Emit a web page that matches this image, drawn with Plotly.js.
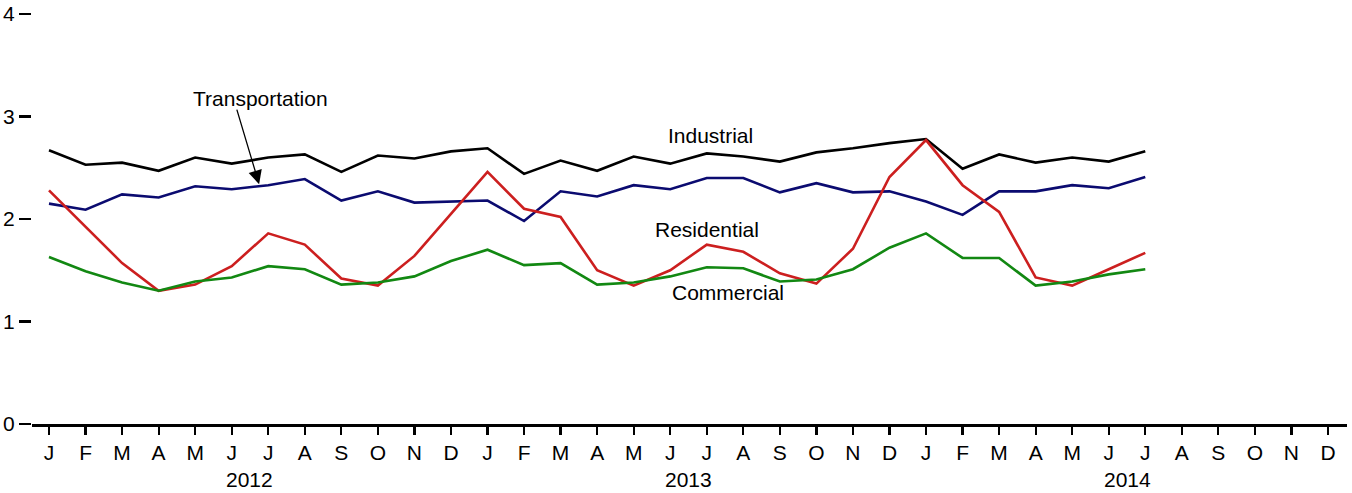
<!DOCTYPE html>
<html>
<head>
<meta charset="utf-8">
<script src="https://cdn.plot.ly/plotly-3.0.1.min.js"></script>
<style>html,body{margin:0;padding:0;background:#fff;}#chart{width:1352px;height:493px;}</style>
</head>
<body>
<div id="chart"></div>
<script>
// Month index 0 = Jan 2012
const monthIndex = [0,1,2,3,4,5,6,7,8,9,10,11,12,13,14,15,16,17,18,19,20,21,22,23,24,25,26,27,28,29,30];
const tickLabels = ["J","F","M","A","M","J","J","A","S","O","N","D","J","F","M","A","M","J","J","A","S","O","N","D","J","F","M","A","M","J","J","A","S","O","N","D"];
const years = ["2012","2013","2014"];

const industrial = [2.67,2.53,2.55,2.47,2.60,2.54,2.60,2.63,2.46,2.62,2.59,2.66,2.69,2.44,2.57,2.47,2.61,2.54,2.64,2.61,2.56,2.65,2.69,2.74,2.78,2.49,2.63,2.55,2.60,2.56,2.66];
const transportation = [2.15,2.09,2.24,2.21,2.32,2.29,2.33,2.39,2.18,2.27,2.16,2.17,2.18,1.98,2.27,2.22,2.33,2.29,2.40,2.40,2.26,2.35,2.26,2.27,2.17,2.04,2.27,2.27,2.33,2.30,2.41];
const residential = [2.28,1.92,1.57,1.30,1.36,1.54,1.86,1.75,1.42,1.35,1.64,2.05,2.46,2.10,2.02,1.50,1.35,1.50,1.75,1.68,1.47,1.37,1.71,2.41,2.77,2.33,2.07,1.43,1.35,1.51,1.67];
const commercial = [1.63,1.49,1.38,1.30,1.39,1.43,1.54,1.51,1.36,1.38,1.44,1.59,1.70,1.55,1.57,1.36,1.38,1.44,1.53,1.52,1.39,1.41,1.51,1.72,1.86,1.62,1.62,1.35,1.39,1.46,1.51];

const FONT = "Liberation Sans, Arial, sans-serif";
const FS = 21;
function line(y, color, name){
  return {x: monthIndex, y: y, type: "scatter", mode: "lines", name: name,
          line: {color: color, width: 2.6}, hoverinfo: "skip"};
}
const traces = [
  line(industrial, "#000000", "Industrial"),
  line(transportation, "#0b0b70", "Transportation"),
  line(residential, "#cc1f1f", "Residential"),
  line(commercial, "#128812", "Commercial")
];

const annotations = [
  {x: 18.09, y: 2.815, xref: "x", yref: "y", text: "Industrial", showarrow: false, font: {size: FS, family: FONT, color: "#000"}},
  {x: 18.0, y: 1.898, xref: "x", yref: "y", text: "Residential", showarrow: false, font: {size: FS, family: FONT, color: "#000"}},
  {x: 18.57, y: 1.28, xref: "x", yref: "y", text: "Commercial", showarrow: false, font: {size: FS, family: FONT, color: "#000"}},
  {x: 5.8, y: 3.18, xref: "x", yref: "y", text: "Transportation", showarrow: false, font: {size: FS, family: FONT, color: "#000"}},
  {x: 5.75, y: 2.34, xref: "x", yref: "y", text: " ", font: {size: 2}, showarrow: true,
   ax: -23, ay: -77, arrowhead: 2, arrowsize: 2.1, arrowwidth: 1.3, arrowcolor: "#000"}
];
years.forEach(function(yr, i){
  annotations.push({x: 5.5 + 12*i, y: -0.135, xref: "x", yref: "paper", yanchor: "middle",
    text: yr, showarrow: false, font: {size: FS, family: FONT, color: "#000"}});
});

const layout = {
  width: 1352, height: 493,
  margin: {l: 32, r: 5, t: 14, b: 69},
  paper_bgcolor: "#fff", plot_bgcolor: "#fff",
  showlegend: false,
  font: {family: FONT, size: FS, color: "#000"},
  xaxis: {
    range: [-0.465, 35.52], tickmode: "array",
    tickvals: tickLabels.map(function(_, i){ return i; }), ticktext: tickLabels,
    showgrid: false, zeroline: false, showline: true, linecolor: "#000", linewidth: 2.6,
    ticks: "outside", ticklen: 8, tickwidth: 2.2, tickcolor: "#000",
    tickfont: {size: FS, family: FONT, color: "#000"}
  },
  yaxis: {
    range: [0, 4], tickvals: [0,1,2,3,4], ticktext: ["0","1","2","3","4"],
    showgrid: false, zeroline: false, showline: false,
    ticks: "outside", ticklen: 12, tickwidth: 2.8, tickcolor: "#000",
    tickfont: {size: FS, family: FONT, color: "#000"}
  },
  annotations: annotations
};

Plotly.newPlot("chart", traces, layout, {displayModeBar: false, staticPlot: true});
</script>
</body>
</html>
